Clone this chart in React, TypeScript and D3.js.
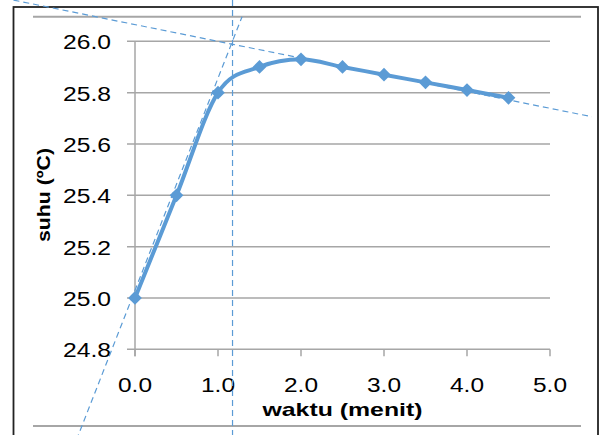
import React from "react";
import * as d3 from "d3";

// ---- data ----
const waktu = [0, 0.5, 1.0, 1.5, 2.0, 2.5, 3.0, 3.5, 4.0, 4.5];
const suhu = [25.0, 25.4, 25.8, 25.9, 25.93, 25.9, 25.87, 25.84, 25.81, 25.78];
const yTicks = [24.8, 25.0, 25.2, 25.4, 25.6, 25.8, 26.0];
const xTicks = [0, 1, 2, 3, 4, 5];
// tangent / helper lines in data units: [x, y] endpoints
const steepLine: [number, number][] = [[-0.75, 24.41], [1.29, 26.096]];
const shallowLine: [number, number][] = [[-1.7, 26.176], [5.506, 25.706]];
const verticalX = 1.175;

const W = 601;
const H = 435;

export default function App() {
  const x = d3.scaleLinear().domain([0, 5]).range([135, 550]);
  const y = d3.scaleLinear().domain([24.8, 26.0]).range([349.3, 41.3]);

  const pts: [number, number][] = waktu.map((t, i) => [x(t), y(suhu[i])]);
  const line = d3.line().curve(d3.curveCardinal.tension(0));
  const seg = d3.line();

  const blue = "#5B9BD5";
  const grid = "#A6A6A6";
  const font = "'Liberation Sans', Arial, sans-serif";

  const diamond = d3.symbol().type(d3.symbolDiamond2).size(120)();

  return (
    <div style={{ position: "absolute", left: 0, top: 0 }}>
      <svg width={W} height={H} style={{ display: "block", background: "#fff" }}>
        {/* outer frame */}
        <rect x={13.5} y={7} width={584.5} height={H + 20} fill="none" stroke="#222" strokeWidth={1.8} />
        <line x1={33} x2={581} y1={16.7} y2={16.7} stroke={grid} strokeWidth={2} />
        <line x1={33} x2={581} y1={426} y2={426} stroke={grid} strokeWidth={2} />

        {/* gridlines */}
        {yTicks.map((v) => (
          <line key={"g" + v} x1={127} x2={550} y1={y(v)} y2={y(v)} stroke={grid} strokeWidth={1.5} />
        ))}
        {/* y axis */}
        <line x1={x(0)} x2={x(0)} y1={y(26.0)} y2={y(24.8) + 7} stroke={grid} strokeWidth={1.5} />
        {xTicks.map((t) => (
          <line key={"t" + t} x1={x(t)} x2={x(t)} y1={y(24.8)} y2={y(24.8) + 7} stroke={grid} strokeWidth={1.5} />
        ))}

        {/* y tick labels */}
        {yTicks.map((v) => (
          <text
            key={"yl" + v}
            x={111}
            y={y(v) + 8}
            textAnchor="end"
            fontFamily={font}
            fontSize={20}
            textLength={48}
            lengthAdjust="spacingAndGlyphs"
            fill="#000"
          >
            {v.toFixed(1)}
          </text>
        ))}
        {/* x tick labels */}
        {xTicks.map((t) => (
          <text
            key={"xl" + t}
            x={x(t)}
            y={392}
            textAnchor="middle"
            fontFamily={font}
            fontSize={20}
            textLength={34}
            lengthAdjust="spacingAndGlyphs"
            fill="#000"
          >
            {t.toFixed(1)}
          </text>
        ))}

        {/* axis titles */}
        <text
          x={342.5}
          y={416}
          textAnchor="middle"
          fontFamily={font}
          fontWeight="bold"
          fontSize={19}
          textLength={160}
          lengthAdjust="spacingAndGlyphs"
        >
          waktu (menit)
        </text>
        <text
          transform="translate(50,195) rotate(-90)"
          textAnchor="middle"
          fontFamily={font}
          fontWeight="bold"
          fontSize={19}
          textLength={94}
          lengthAdjust="spacingAndGlyphs"
        >
          suhu (ºC)
        </text>

        {/* series */}
        <path d={line(pts) || ""} fill="none" stroke={blue} strokeWidth={4} strokeLinejoin="round" />
        {pts.map((p, i) => (
          <path key={"m" + i} d={diamond || ""} transform={`translate(${p[0]},${p[1]})`} fill={blue} />
        ))}

        {/* dashed helper lines */}
        <path
          d={seg(steepLine.map(([a, b]) => [x(a), y(b)] as [number, number])) || ""}
          fill="none"
          stroke={blue}
          strokeWidth={1.2}
          strokeDasharray="6,4"
        />
        <path
          d={seg(shallowLine.map(([a, b]) => [x(a), y(b)] as [number, number])) || ""}
          fill="none"
          stroke={blue}
          strokeWidth={1.2}
          strokeDasharray="6,4"
        />
        <line
          x1={x(verticalX)}
          x2={x(verticalX)}
          y1={0}
          y2={H}
          stroke={blue}
          strokeWidth={1.2}
          strokeDasharray="6,4"
        />
      </svg>
    </div>
  );
}
